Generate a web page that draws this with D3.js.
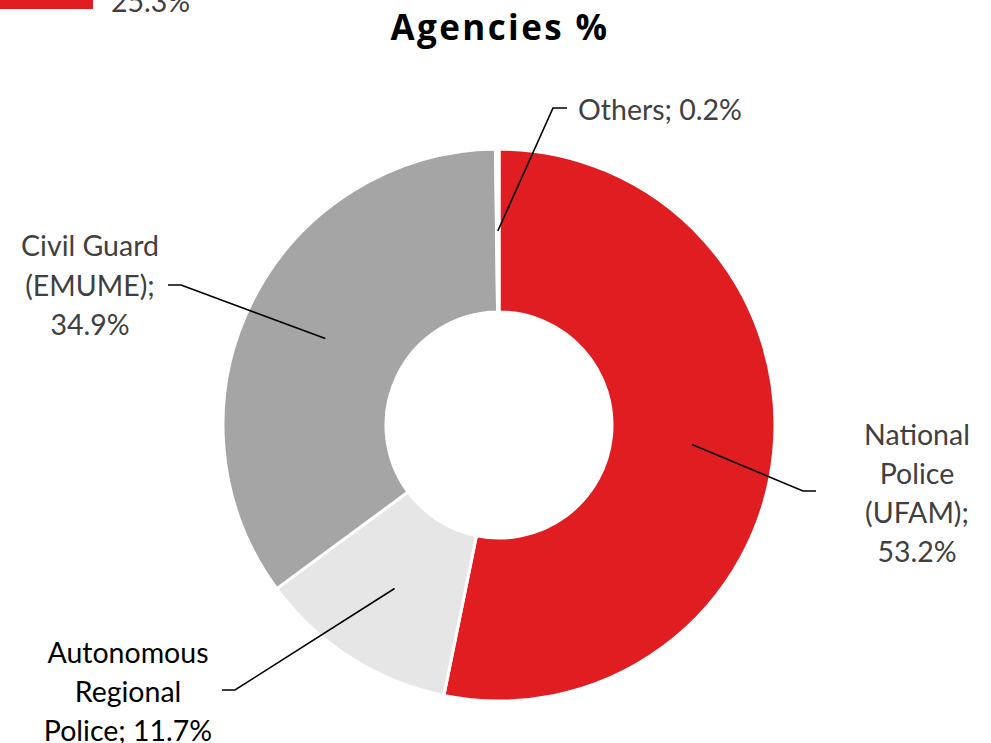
<!DOCTYPE html>
<html><head><meta charset="utf-8">
<script src="https://cdn.jsdelivr.net/npm/d3@7"></script>
<style>html,body{margin:0;padding:0;background:#fff;}svg{display:block;}</style>
</head><body>
<script>
// Data
const categories = ["National Police (UFAM)", "Autonomous Regional Police", "Civil Guard (EMUME)", "Others"];
const values = [53.2, 11.7, 34.9, 0.2];
const labelLines = [["National","Police","(UFAM);","53.2%"],["Autonomous","Regional","Police; 11.7%"],["Civil Guard","(EMUME);","34.9%"],["Others; 0.2%"]];
const colors = ["#e01e22", "#e6e6e6", "#a5a5a5", "#f2f2f2"];
// cut-off fragment of a previous chart at the top-left
const fragmentValues = [25.3];

const W = 991, H = 743;
const cx = 499, cy = 425, rOuter = 276, rInner = 113;
const svg = d3.select("body").append("svg").attr("width", W).attr("height", H);
const font = "Lato, 'Open Sans', sans-serif";
const fs = 28.5;

// fragment bar
const fx = d3.scaleLinear().domain([0, 25.3]).range([0, 93]);
svg.selectAll("rect.frag").data(fragmentValues).join("rect")
  .attr("x", 0).attr("y", -10).attr("height", 19).attr("width", d => fx(d)).attr("fill", "#e01e22");
svg.selectAll("text.frag").data(fragmentValues).join("text")
  .attr("x", 111).attr("y", 12).attr("font-family", font).attr("font-size", fs).attr("fill", "#404040")
  .text(d => d.toFixed(1) + "%");

// title
svg.append("text").attr("x", 500).attr("y", 40).attr("text-anchor", "middle")
  .attr("font-family", "'Open Sans', Lato, sans-serif").attr("font-weight", 700).attr("font-size", 35)
  .attr("letter-spacing", 2.4).attr("fill", "#000").text("Agencies %");

const data = categories.map((c, i) => ({c, v: values[i], i}));
const pie = d3.pie().value(d => d.v).sort(null);
const arcs = pie(data);
const arc = d3.arc().innerRadius(rInner).outerRadius(rOuter);
const g = svg.append("g").attr("transform", `translate(${cx},${cy})`);
g.selectAll("path").data(arcs).join("path")
  .attr("d", arc).attr("fill", d => colors[d.data.i]).attr("stroke", "#fff").attr("stroke-width", 3);

// labels & leaders (layout)
const midArc = d3.arc().innerRadius(194).outerRadius(194);
const layout = [
  {elbow:[803,491], end:[816,491], tx:917, ty:[435,474,513,552], anchor:"middle", color:"#404040"},
  {elbow:[235,690], end:[222,690], tx:128, ty:[653,692,731], anchor:"middle", color:"#000"},
  {elbow:[181,285], end:[168,285], tx:90, ty:[246,286,325], anchor:"middle", color:"#404040"},
  {elbow:[553,108], end:[567,108], tx:578, ty:[110], anchor:"start", color:"#404040"}
];
arcs.forEach((a, k) => {
  const L = layout[k];
  const c = midArc.centroid(a);
  const p0 = [cx + c[0], cy + c[1]];
  svg.append("path").attr("d", d3.line()([p0, L.elbow, L.end]))
    .attr("fill", "none").attr("stroke", "#000").attr("stroke-width", 1.6);
  labelLines[k].forEach((t, j) => {
    svg.append("text").attr("x", L.tx).attr("y", L.ty[j]).attr("dy", "0.35em")
      .attr("text-anchor", L.anchor).attr("font-family", font).attr("font-size", fs)
      .attr("fill", L.color).text(t);
  });
});
</script>
</body></html>
